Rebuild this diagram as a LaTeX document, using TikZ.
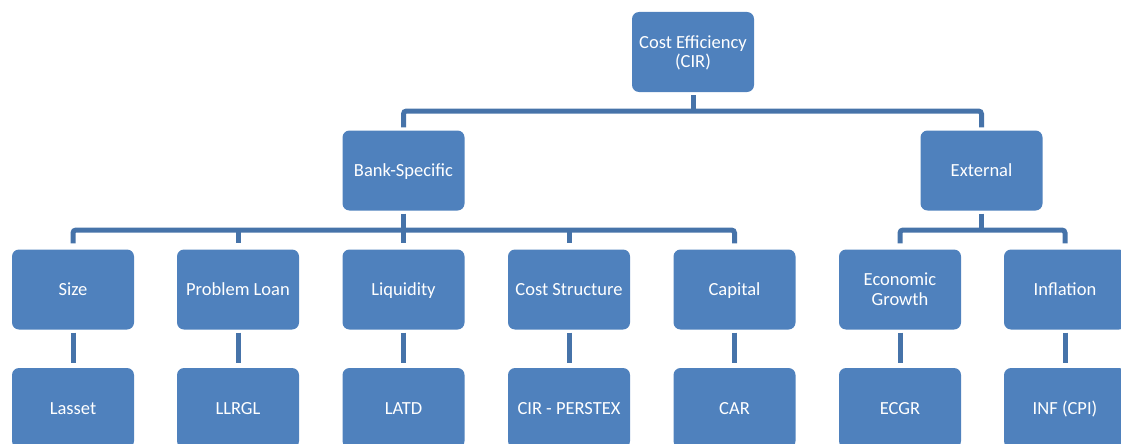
\documentclass[tikz,border=0pt]{standalone}
\usepackage{fontspec}
\setmainfont{Carlito}
\definecolor{boxblue}{HTML}{4F81BD}
\definecolor{lineblue}{HTML}{4673A9}
\begin{document}
\begin{tikzpicture}[x=1pt,y=-1pt,
  box/.style={fill=boxblue,draw=none,rounded corners=7pt,minimum width=122pt,minimum height=80pt,
    text=white,align=center,font=\fontsize{18.5}{19.5}\selectfont,inner sep=0pt,
    text height=12pt,text depth=0pt},
  twoline/.style={text height=31.5pt},
  conn/.style={draw=lineblue,line width=5pt,rounded corners=3pt}]
\useasboundingbox (0,0) rectangle (1121,444);
\clip (0,0) rectangle (1121,444);
% row 1
\node[box,twoline] (top) at (693,52) {Cost Efficiency\\(CIR)};
% row 2
\node[box] (bank) at (403.5,170.5) {Bank-Specific};
\node[box] (ext) at (981.5,170.5) {External};
% row 3
\node[box] (size) at (73,289.5) {Size};
\node[box] (loan) at (238,289.5) {Problem Loan};
\node[box] (liq) at (403.5,289.5) {Liquidity};
\node[box] (cost) at (569,289.5) {Cost Structure};
\node[box] (cap) at (734.5,289.5) {Capital};
\node[box,twoline] (econ) at (900,289.5) {Economic\\Growth};
\node[box] (infl) at (1065,289.5) {Inflation};
% row 4
\node[box] (lasset) at (73,408) {Lasset};
\node[box] (llrgl) at (238,408) {LLRGL};
\node[box] (latd) at (403.5,408) {LATD};
\node[box] (perstex) at (569,408) {CIR - PERSTEX};
\node[box] (car) at (734.5,408) {CAR};
\node[box] (ecgr) at (900,408) {ECGR};
\node[box] (inf) at (1065,408) {INF (CPI)};
% junctions
\coordinate (j1) at (top.south |- 0,111);
\coordinate (j2) at (bank.south |- 0,230);
\coordinate (j3) at (ext.south |- 0,230);
% connectors level 1
\draw[conn,shorten <=3pt] (top.south) -- (j1);
\draw[conn,shorten <=3pt,shorten >=3pt] (bank.north) |- (j1) -| (ext.north);
% bank-specific
\draw[conn,shorten <=3pt] (bank.south) -- (j2);
\draw[conn,shorten <=6pt,shorten >=6pt] (size.north) |- (j2) -| (cap.north);
\draw[conn,shorten >=6pt] (j2 -| loan.north) -- (loan.north);
\draw[conn,shorten >=6pt] (j2 -| liq.north) -- (liq.north);
\draw[conn,shorten >=6pt] (j2 -| cost.north) -- (cost.north);
% external
\draw[conn,shorten <=3pt] (ext.south) -- (j3);
\draw[conn,shorten <=6pt,shorten >=6pt] (econ.north) |- (j3) -| (infl.north);
% row 3 to row 4
\foreach \a/\b in {size/lasset,loan/llrgl,liq/latd,cost/perstex,cap/car,econ/ecgr,infl/inf}
  \draw[conn,shorten <=3pt,shorten >=5pt] (\a.south) -- (\b.north);
\end{tikzpicture}
\end{document}
